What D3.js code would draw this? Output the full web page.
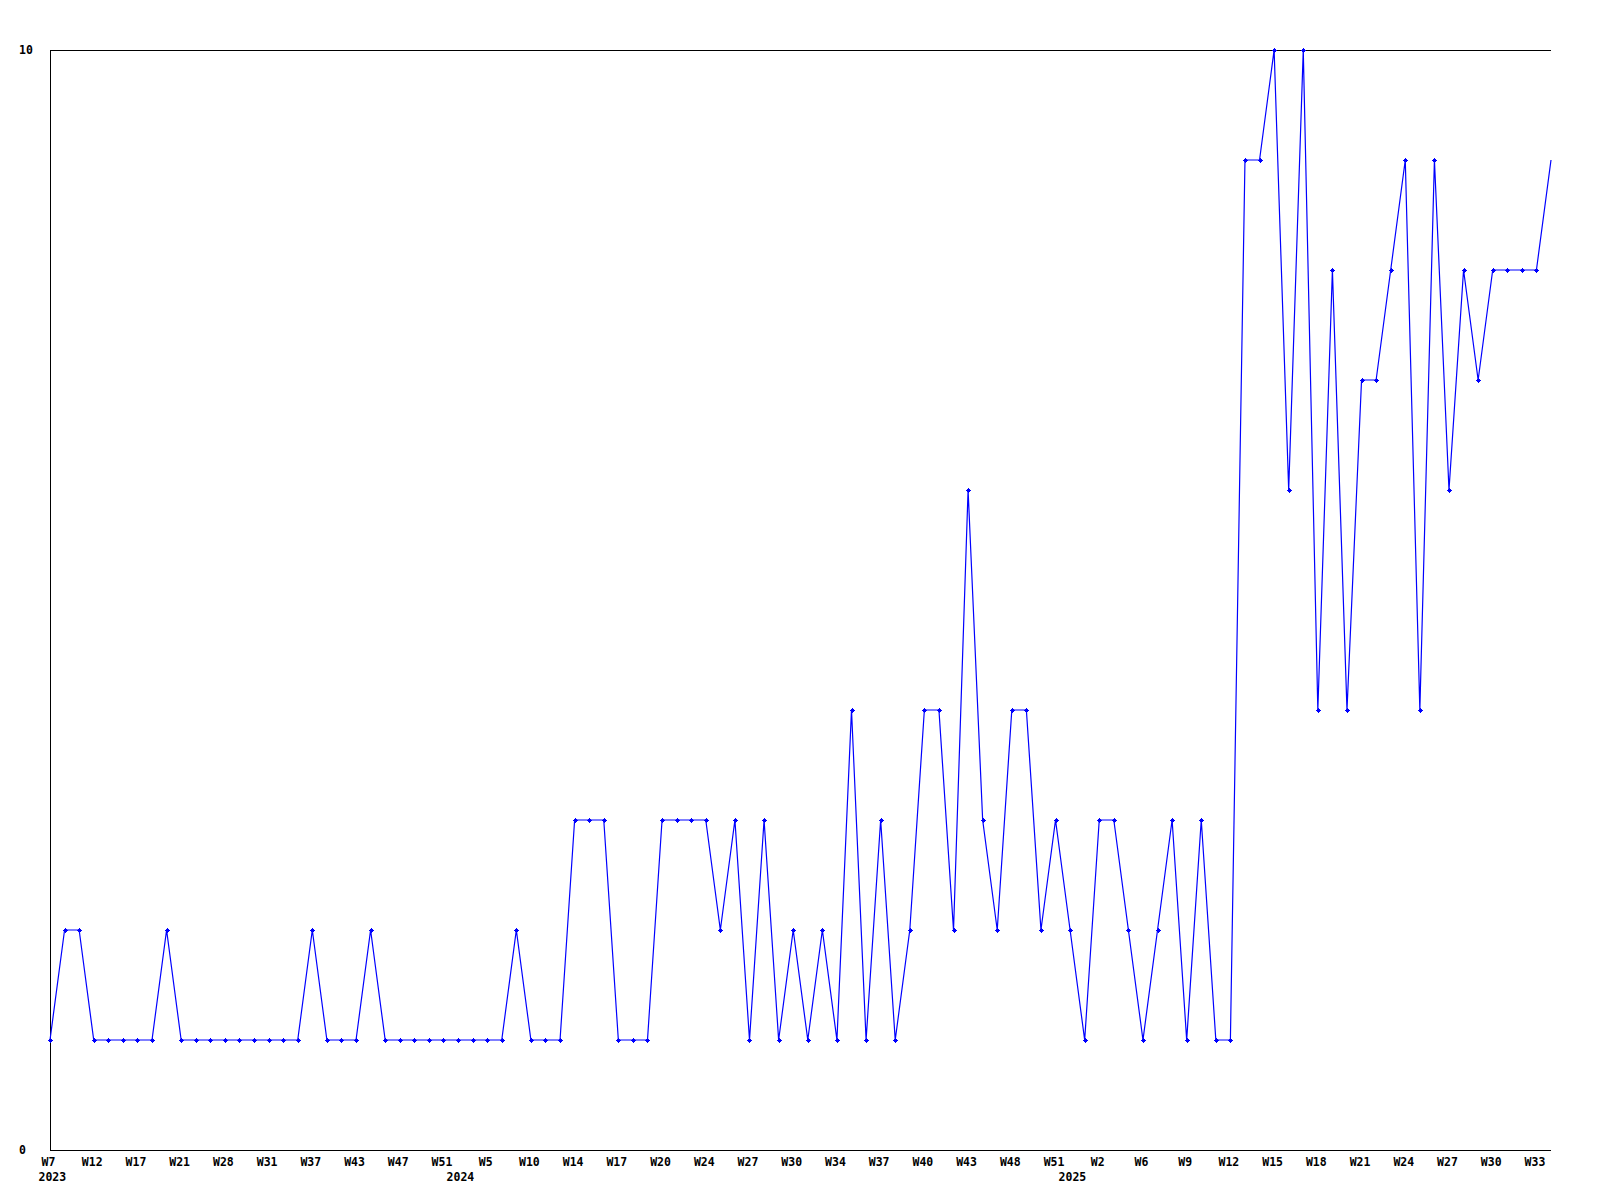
<!DOCTYPE html>
<html>
<head>
<meta charset="utf-8">
<script src="https://cdn.jsdelivr.net/npm/d3@7"></script>
<style>
  html, body { margin: 0; padding: 0; background: #fff; }
  svg { display: block; }
  text { font-family: "DejaVu Sans Mono", "Liberation Mono", monospace; font-weight: bold; font-size: 11.5px; fill: #000; }
</style>
</head>
<body>
<svg id="chart" width="1600" height="1200"></svg>
<script>
// ---- data ----
const values = [
  1, 2, 2, 1, 1, 1, 1, 1, 2, 1,
  1, 1, 1, 1, 1, 1, 1, 1, 2, 1,
  1, 1, 2, 1, 1, 1, 1, 1, 1, 1,
  1, 1, 2, 1, 1, 1, 3, 3, 3, 1,
  1, 1, 3, 3, 3, 3, 2, 3, 1, 3,
  1, 2, 1, 2, 1, 4, 1, 3, 1, 2,
  4, 4, 2, 6, 3, 2, 4, 4, 2, 3,
  2, 1, 3, 3, 2, 1, 2, 3, 1, 3,
  1, 1, 9, 9, 10, 6, 10, 4, 8, 4,
  7, 7, 8, 9, 4, 9, 6, 8, 7, 8,
  8, 8, 8, 9
];
const tickLabels = ["W7","W12","W17","W21","W28","W31","W37","W43","W47","W51",
  "W5","W10","W14","W17","W20","W24","W27","W30","W34","W37",
  "W40","W43","W48","W51","W2","W6","W9","W12","W15","W18",
  "W21","W24","W27","W30","W33"];
const tickEvery = 3;
const yearLabels = ["2023", "2024", "2025"];
const yearIndex = [0, 28, 70];
const yTickValues = [0, 10];

// ---- layout ----
(function () {
const svg = d3.select("#chart");
const pLeft = 50, pRight = 1551, pTop = 50, pBottom = 1150;

const x = d3.scaleLinear().domain([0, values.length - 1]).range([pLeft, pRight]);
const y = d3.scaleLinear().domain([0, 10]).range([pBottom, pTop]);

// frame: left, top, bottom
const frame = svg.append("g").attr("stroke", "#000").attr("stroke-width", 1).attr("shape-rendering", "crispEdges");
frame.append("line").attr("x1", pLeft).attr("x2", pLeft).attr("y1", pTop).attr("y2", pBottom);
frame.append("line").attr("x1", pLeft).attr("x2", pRight).attr("y1", pTop).attr("y2", pTop);
frame.append("line").attr("x1", pLeft).attr("x2", pRight).attr("y1", pBottom).attr("y2", pBottom);

// x axis labels
const tickIdx = tickLabels.map((_, i) => i * tickEvery);
const xAxis = d3.axisBottom(x).tickValues(tickIdx)
  .tickFormat(d => tickLabels[d / tickEvery]).tickSize(0);
const gx = svg.append("g").attr("transform", `translate(-2,${pBottom})`).call(xAxis);
gx.select(".domain").remove();
gx.selectAll("text").attr("y", 16).attr("dy", 0).attr("fill", "#000")
  .style("font-family", "'DejaVu Sans Mono', monospace").style("font-weight", "bold").style("font-size", "11.5px");

// year labels
svg.append("g").selectAll("text").data(yearLabels).join("text")
  .attr("x", (d, i) => x(yearIndex[i]) - 11.5)
  .attr("y", 1181)
  .attr("text-anchor", "start")
  .text(d => d);

// y labels
svg.append("g").selectAll("text").data(yTickValues).join("text")
  .attr("x", 19)
  .attr("y", d => y(d) + 4)
  .attr("text-anchor", "start")
  .text(d => d);

// line
const line = d3.line().x((d, i) => x(i)).y(d => y(d));
svg.append("path").datum(values)
  .attr("d", line)
  .attr("fill", "none")
  .attr("stroke", "#0000ff")
  .attr("stroke-width", 1.2);

// markers (the last point sits on the plot edge and shows no marker in the reference)
const mk = svg.append("g").attr("fill", "#0000ff").attr("stroke", "#0000ff").attr("shape-rendering", "crispEdges");
mk.selectAll("path").data(values.slice(0, values.length - 1)).join("path")
  .attr("d", (d, i) => {
    const cx = Math.round(x(i)), cy = Math.round(y(d));
    return `M${cx - 2.5},${cy}H${cx + 2.5}M${cx},${cy - 2.5}V${cy + 2.5}M${cx - 1},${cy - 1}h2v2h-2z`;
  })
  .attr("stroke-width", 1);
})();
</script>
</body>
</html>
